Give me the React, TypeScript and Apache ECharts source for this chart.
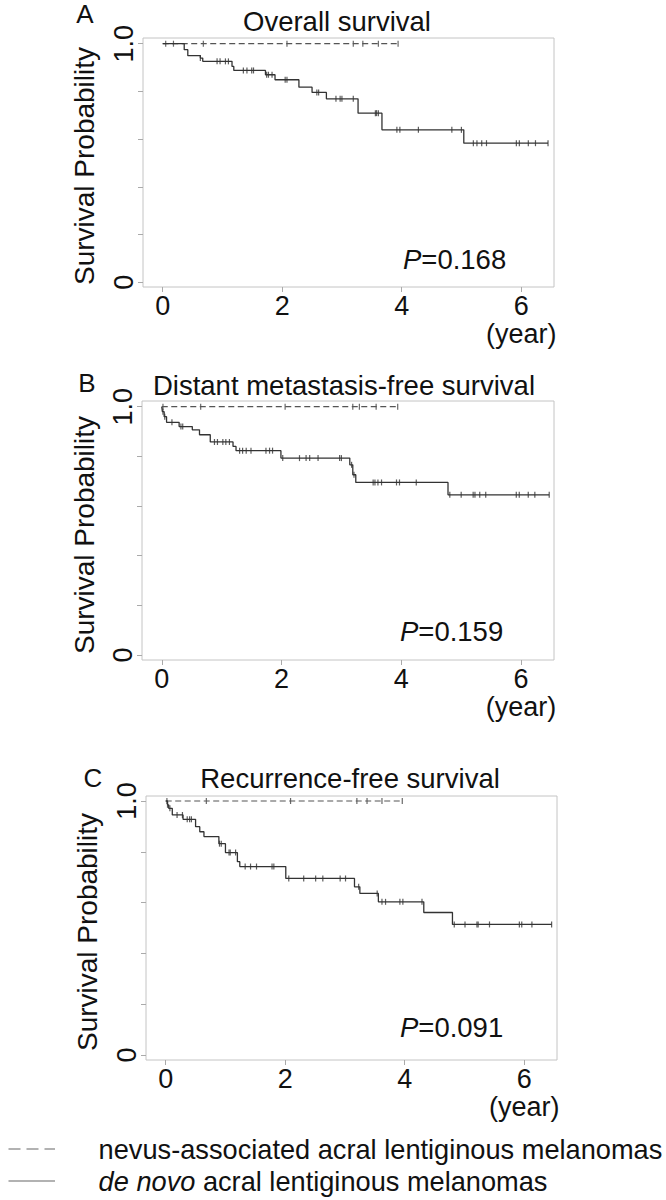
import React, { useEffect, useRef } from 'react';
import * as echarts from 'echarts';

const FONT = 'Liberation Sans, Arial, sans-serif';

// ---------- Panel A: Overall survival ----------
const A_NEVUS_END = 3.94;
const A_NEVUS_CENSOR = [0.05, 0.18, 0.68, 2.08, 3.19, 3.35, 3.61, 3.94];
const A_DENOVO_T = [0, 0.36, 0.42, 0.63, 0.67, 1.16, 1.19, 1.72, 1.88, 2.28, 2.5, 2.74, 3.27, 3.67, 5.04, 6.45];
const A_DENOVO_S = [1, 0.975, 0.95, 0.94, 0.926, 0.905, 0.888, 0.87, 0.849, 0.818, 0.796, 0.769, 0.709, 0.639, 0.583, 0.583];
const A_DENOVO_CENSOR = [0.63, 0.91, 0.96, 1.05, 1.1, 1.35, 1.41, 1.49, 1.52, 1.74, 1.77, 1.83, 2.05, 2.08, 2.58, 2.61, 2.9, 2.97, 3.0, 3.19, 3.56, 3.58, 3.61, 3.92, 3.97, 4.28, 4.84, 5.0, 5.2, 5.26, 5.34, 5.42, 5.92, 5.97, 6.12, 6.24, 6.45];

// ---------- Panel B: Distant metastasis-free survival ----------
const B_NEVUS_END = 3.94;
const B_NEVUS_CENSOR = [0.02, 0.65, 2.06, 3.19, 3.3, 3.58, 3.94];
const B_DENOVO_T = [0, 0.01, 0.04, 0.08, 0.29, 0.51, 0.63, 0.81, 1.19, 1.24, 1.99, 3.14, 3.19, 3.24, 4.78, 6.47];
const B_DENOVO_S = [1, 0.98, 0.96, 0.937, 0.92, 0.907, 0.887, 0.858, 0.84, 0.823, 0.793, 0.766, 0.726, 0.695, 0.645, 0.645];
const B_DENOVO_CENSOR = [0.02, 0.05, 0.17, 0.32, 0.35, 0.88, 0.93, 1.02, 1.07, 1.13, 1.3, 1.35, 1.41, 1.49, 1.74, 1.8, 1.85, 2.02, 2.3, 2.41, 2.47, 2.61, 2.97, 3.0, 3.17, 3.21, 3.53, 3.56, 3.61, 3.67, 3.92, 3.97, 4.25, 4.81, 5.0, 5.2, 5.23, 5.31, 5.41, 5.92, 5.97, 6.12, 6.23, 6.47];

// ---------- Panel C: Recurrence-free survival ----------
const C_NEVUS_END = 3.96;
const C_NEVUS_CENSOR = [0.02, 0.68, 2.09, 3.2, 3.37, 3.62, 3.96];
const C_DENOVO_T = [0, 0.03, 0.05, 0.11, 0.29, 0.5, 0.57, 0.64, 0.89, 1.0, 1.2, 1.24, 2.01, 3.16, 3.25, 3.56, 4.32, 4.8, 6.46];
const C_DENOVO_S = [1, 0.985, 0.971, 0.945, 0.928, 0.899, 0.879, 0.86, 0.832, 0.797, 0.761, 0.742, 0.695, 0.662, 0.636, 0.603, 0.561, 0.514, 0.514];
const C_DENOVO_CENSOR = [0.03, 0.07, 0.19, 0.28, 0.36, 0.4, 0.43, 0.9, 0.93, 1.06, 1.08, 1.17, 1.33, 1.42, 1.52, 1.78, 1.81, 2.06, 2.31, 2.51, 2.63, 2.92, 3.01, 3.23, 3.54, 3.62, 3.68, 3.92, 3.97, 4.29, 4.83, 5.01, 5.21, 5.23, 5.42, 5.92, 5.96, 6.13, 6.46];

const TITLES = ['Overall survival', 'Distant metastasis-free survival', 'Recurrence-free survival'];
const PANEL_LETTERS = ['A', 'B', 'C'];
const P_VALUES = ['0.168', '0.159', '0.091'];
const X_TICKS = [0, 2, 4, 6];
const Y_TICKS = [0, 0.2, 0.4, 0.6, 0.8, 1];
const Y_LABELS = [0, 1];
const LEGEND_NEVUS = 'nevus-associated acral lentiginous melanomas';
const LEGEND_DENOVO_ITALIC = 'de novo';
const LEGEND_DENOVO_REST = ' acral lentiginous melanomas';

const PANELS = [
  { nevusEnd: A_NEVUS_END, nevusCensor: A_NEVUS_CENSOR, t: A_DENOVO_T, s: A_DENOVO_S, censor: A_DENOVO_CENSOR },
  { nevusEnd: B_NEVUS_END, nevusCensor: B_NEVUS_CENSOR, t: B_DENOVO_T, s: B_DENOVO_S, censor: B_DENOVO_CENSOR },
  { nevusEnd: C_NEVUS_END, nevusCensor: C_NEVUS_CENSOR, t: C_DENOVO_T, s: C_DENOVO_S, censor: C_DENOVO_CENSOR },
];

// layout (pixels)
const GRIDS = [
  { left: 143, top: 38, width: 411, height: 249, yMin: -0.02, yMax: 1.024 },
  { left: 142, top: 401, width: 412, height: 259, yMin: -0.02, yMax: 1.023 },
  { left: 146, top: 796, width: 411, height: 264, yMin: -0.0197, yMax: 1.0197 },
];
const X_MIN = -0.33;
const X_MAX = 6.55;

function survAt(ts: number[], ss: number[], x: number) {
  let v = ss[0];
  for (let i = 0; i < ts.length; i++) {
    if (ts[i] <= x + 1e-9) v = ss[i];
  }
  return v;
}

export default function App() {
  const ref = useRef<HTMLDivElement>(null);
  useEffect(() => {
    if (!ref.current) return;
    const chart = echarts.init(ref.current, undefined, { renderer: 'svg' });

    const grid: any[] = [];
    const xAxis: any[] = [];
    const yAxis: any[] = [];
    const series: any[] = [];

    GRIDS.forEach((g, i) => {
      grid.push({
        left: g.left, top: g.top, width: g.width, height: g.height,
        show: true, borderColor: '#c4c4c4', borderWidth: 1, backgroundColor: 'transparent',
      });
      xAxis.push({
        gridIndex: i, type: 'value', min: X_MIN, max: X_MAX, position: 'bottom',
        axisLine: { show: false, onZero: false }, splitLine: { show: false },
        axisTick: { show: true, customValues: X_TICKS, length: 5, lineStyle: { color: '#aaa' } },
        axisLabel: {
          customValues: X_TICKS, margin: 5, fontSize: 27, color: '#111', fontFamily: FONT, lineHeight: 28,
          formatter: (v: number) => (v === 6 ? '6\n(year)' : String(v)),
        },
      });
      yAxis.push({
        gridIndex: i, type: 'value', min: g.yMin, max: g.yMax, position: 'left',
        axisLine: { show: false, onZero: false }, splitLine: { show: false },
        axisTick: { show: true, customValues: Y_TICKS, length: 5, lineStyle: { color: '#aaa' } },
        axisLabel: {
          customValues: Y_LABELS, rotate: 90, margin: 6, fontSize: 27, color: '#111', fontFamily: FONT,
          formatter: (v: number) => (v === 1 ? '1.0' : '0'),
        },
      });
      const p = PANELS[i];
      series.push({
        type: 'line', xAxisIndex: i, yAxisIndex: i, symbol: 'none', silent: true,
        data: [[0, 1], [p.nevusEnd, 1]],
        lineStyle: { color: '#555', width: 1.2, type: [6, 3.5] },
      });
      series.push({
        type: 'scatter', xAxisIndex: i, yAxisIndex: i, silent: true,
        symbol: 'rect', symbolSize: [1.2, 6],
        itemStyle: { color: '#444' },
        data: p.nevusCensor.map((x) => [x, 1]),
      });
      series.push({
        type: 'line', xAxisIndex: i, yAxisIndex: i, symbol: 'none', step: 'end', silent: true,
        data: p.t.map((x, k) => [x, p.s[k]]),
        lineStyle: { color: '#333', width: 1.3 },
      });
      series.push({
        type: 'scatter', xAxisIndex: i, yAxisIndex: i, silent: true,
        symbol: 'rect', symbolSize: [1.2, 6],
        itemStyle: { color: '#333' },
        data: p.censor.map((x) => [x, survAt(p.t, p.s, x)]),
      });
    });

    const txt = (x: number, y: number, text: string, size: number, extra: any = {}) => ({
      type: 'text', x, y, silent: true,
      style: { text, fontSize: size, fontFamily: FONT, fill: '#111', align: 'center', verticalAlign: 'middle', ...extra },
    });

    const letterPos = [[85, 14], [87, 383], [93, 778]];
    const titlePos = [[337, 21], [344, 385], [350, 778]];
    const namePos = [[84, 166], [84, 535], [87, 932]];
    const pPos = [[403, 259], [400, 631], [400, 1027]];

    const graphic: any[] = [];
    for (let i = 0; i < 3; i++) {
      graphic.push(txt(letterPos[i][0], letterPos[i][1], PANEL_LETTERS[i], 26));
      graphic.push(txt(titlePos[i][0], titlePos[i][1], TITLES[i], 27.5));
      graphic.push({ ...txt(namePos[i][0], namePos[i][1], 'Survival Probability', 28), rotation: Math.PI / 2 });
      graphic.push(txt(pPos[i][0], pPos[i][1], '{i|P}=' + P_VALUES[i], 27.5, {
        align: 'left',
        rich: { i: { fontStyle: 'italic', fontSize: 27.5, fontFamily: FONT, fill: '#111' } },
      }));
    }
    graphic.push({
      type: 'line', silent: true,
      shape: { x1: 8.5, y1: 1149, x2: 55, y2: 1149 },
      style: { stroke: '#999', lineWidth: 1.5, lineDash: [12, 6] },
    });
    graphic.push({
      type: 'line', silent: true,
      shape: { x1: 8.5, y1: 1181, x2: 55, y2: 1181 },
      style: { stroke: '#999', lineWidth: 1.5 },
    });
    graphic.push(txt(98.6, 1149, LEGEND_NEVUS, 27.2, { align: 'left' }));
    graphic.push(txt(98.6, 1181, '{i|' + LEGEND_DENOVO_ITALIC + '}' + LEGEND_DENOVO_REST, 27.2, {
      align: 'left',
      rich: { i: { fontStyle: 'italic', fontSize: 27.2, fontFamily: FONT, fill: '#111' } },
    }));

    chart.setOption({
      animation: false,
      backgroundColor: '#fff',
      grid, xAxis, yAxis, series, graphic,
    });
    return () => chart.dispose();
  }, []);

  return <div ref={ref} style={{ position: 'fixed', left: 0, top: 0, width: 666, height: 1200 }} />;
}
